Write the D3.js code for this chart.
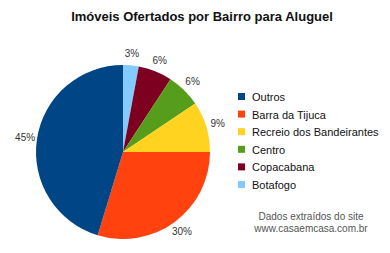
<!DOCTYPE html>
<html lang="pt">
<head>
<meta charset="UTF-8">
<title>Imóveis Ofertados por Bairro para Aluguel</title>
<script src="https://d3js.org/d3.v7.min.js"></script>
<style>
    body { margin: 0; padding: 0; background: #fff; }
    svg { display: block; font-family: 'Liberation Sans', Arial, sans-serif; }
    .title { font-size: 13px; font-weight: bold; fill: #111; text-anchor: middle; }
    .pct { font-size: 10px; fill: #333; text-anchor: middle; }
    .legend-text { font-size: 11px; fill: #111; }
    .note { font-size: 10px; fill: #555; text-anchor: middle; }
</style>
</head>
<body>
<svg width="390" height="253"></svg>
<script>
// slices in drawing order, clockwise from 12 o'clock
const bairros = ["Botafogo", "Copacabana", "Centro", "Recreio dos Bandeirantes", "Barra da Tijuca", "Outros"];
const percentuais = [2.9, 6.3, 6.4, 9.4, 29.7, 45.3];
const cores = ["#83caff", "#7e0021", "#579d1c", "#ffd320", "#ff420e", "#004586"];
// legend order
const legenda = ["Outros", "Barra da Tijuca", "Recreio dos Bandeirantes", "Centro", "Copacabana", "Botafogo"];

const svg = d3.select("svg");
const cx = 123, cy = 152, radius = 87;

svg.append("text")
    .attr("class", "title")
    .attr("x", 202)
    .attr("y", 21)
    .text("Imóveis Ofertados por Bairro para Aluguel");

const color = d3.scaleOrdinal().domain(bairros).range(cores);

const data = bairros.map((b, i) => ({ bairro: b, valor: percentuais[i] }));
const total = d3.sum(percentuais);

const pie = d3.pie().sort(null).value(d => d.valor);
const arcs = pie(data);
const arc = d3.arc().innerRadius(0).outerRadius(radius);
const labelArc = d3.arc().innerRadius(radius + 12).outerRadius(radius + 12);

const g = svg.append("g").attr("transform", `translate(${cx},${cy})`);

g.selectAll("path")
    .data(arcs)
    .enter()
    .append("path")
    .attr("d", arc)
    .attr("fill", d => color(d.data.bairro));

g.selectAll("text")
    .data(arcs)
    .enter()
    .append("text")
    .attr("class", "pct")
    .attr("transform", d => `translate(${labelArc.centroid(d)})`)
    .attr("dy", "0.35em")
    .text(d => Math.round(d.data.valor / total * 100) + "%");

const leg = svg.append("g").attr("transform", "translate(238,97)");
const rows = leg.selectAll("g")
    .data(legenda)
    .enter()
    .append("g")
    .attr("transform", (d, i) => `translate(0,${i * 17.6})`);

rows.append("rect")
    .attr("x", 0)
    .attr("y", -4)
    .attr("width", 7)
    .attr("height", 7)
    .attr("fill", d => color(d));

rows.append("text")
    .attr("class", "legend-text")
    .attr("x", 14)
    .attr("y", 4)
    .text(d => d);

svg.append("text")
    .attr("class", "note")
    .attr("x", 311)
    .attr("y", 220)
    .text("Dados extraídos do site");

svg.append("text")
    .attr("class", "note")
    .attr("x", 311)
    .attr("y", 232)
    .text("www.casaemcasa.com.br");
</script>
</body>
</html>
